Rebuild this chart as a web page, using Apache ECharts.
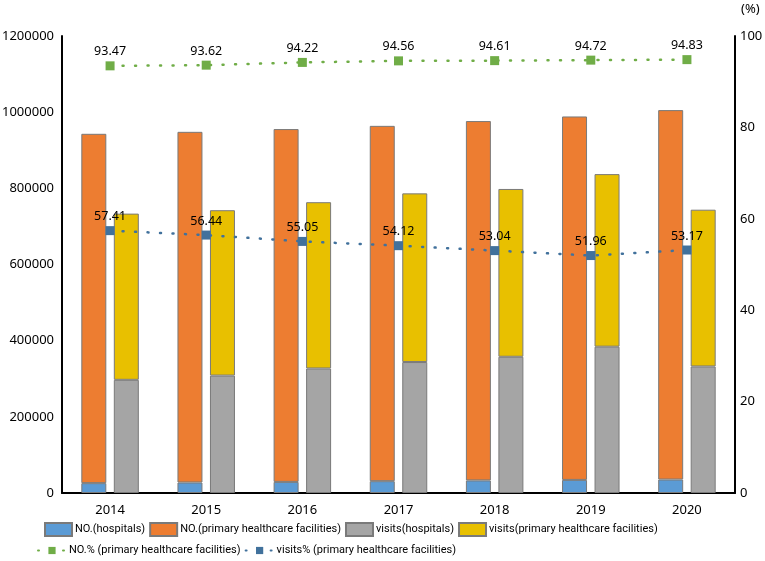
<!DOCTYPE html>
<html>
<head>
<meta charset="utf-8">
<script src="https://cdn.jsdelivr.net/npm/echarts@6/dist/echarts.min.js"></script>
<style>
  html, body { margin: 0; padding: 0; background: #fff; }
  #main { width: 765px; height: 561px; }
</style>
</head>
<body>
<div id="main"></div>
<script>
// data
var years = ['2014', '2015', '2016', '2017', '2018', '2019', '2020'];
var noHospitals = [25860, 27587, 29140, 31056, 33009, 34354, 35394];
var noPrimary = [917335, 920770, 926518, 933024, 943639, 954390, 970036];
var visitsHospitals = [297207, 308364, 326956, 343892, 357737, 384240, 332288];
var visitsPrimary = [436395, 434193, 436663, 442892, 440632, 453087, 411614];
var noPct = [93.47, 93.62, 94.22, 94.56, 94.61, 94.72, 94.83];
var visitsPct = [57.41, 56.44, 55.05, 54.12, 53.04, 51.96, 53.17];

var font = 'Noto Sans';
var legendFont = 'Roboto';
var axisColor = '#000';

function barSeries(name, stack, data, color) {
  return {
    name: name,
    type: 'bar',
    stack: stack,
    barWidth: 25,
    barGap: '30%',
    data: data,
    itemStyle: { color: color, borderColor: '#7a7a7a', borderWidth: 1 }
  };
}

function lineSeries(name, data, color) {
  return {
    name: name,
    type: 'line',
    yAxisIndex: 1,
    z: 5,
    data: data,
    symbol: 'rect',
    symbolSize: 9,
    itemStyle: { color: color },
    lineStyle: { color: color, width: 2.5, type: [1, 11.5], cap: 'round' },
    label: {
      show: true,
      position: 'top',
      distance: 3,
      color: '#000',
      fontFamily: font,
      fontSize: 12.5
    }
  };
}

var option = {
  animation: false,
  textStyle: { fontFamily: font },
  grid: { left: 62, right: 30, top: 36, bottom: 68, outerBoundsMode: 'none' },
  legend: [
    {
      data: ['NO.(hospitals)', 'NO.(primary healthcare facilities)', 'visits(hospitals)', 'visits(primary healthcare facilities)'],
      left: 44,
      top: 522,
      padding: 0,
      icon: 'rect',
      itemWidth: 27,
      itemHeight: 13,
      itemGap: 4,
      textStyle: { fontFamily: legendFont, fontSize: 11, color: '#000', padding: [0, 0, 0, -2] }
    },
    {
      data: ['NO.% (primary healthcare facilities)', 'visits% (primary healthcare facilities)'],
      left: 37,
      top: 545,
      padding: 0,
      itemWidth: 28,
      itemHeight: 9,
      itemGap: 4,
      textStyle: { fontFamily: legendFont, fontSize: 11, color: '#000', padding: [0, 0, 0, -2] }
    }
  ],
  xAxis: {
    type: 'category',
    data: years,
    axisLine: { lineStyle: { color: axisColor, width: 2 } },
    axisTick: { show: false },
    axisLabel: { color: '#000', fontSize: 13, margin: 11 }
  },
  yAxis: [
    {
      type: 'value',
      min: 0,
      max: 1200000,
      interval: 200000,
      axisLine: { show: true, lineStyle: { color: axisColor, width: 2 } },
      axisTick: { show: false },
      splitLine: { show: false },
      axisLabel: { color: '#000', fontSize: 13, margin: 8, formatter: function (v) { return String(v); } }
    },
    {
      type: 'value',
      min: 0,
      max: 100,
      interval: 20,
      name: '(%)',
      nameLocation: 'end',
      nameGap: 20,
      nameTextStyle: { color: '#000', fontSize: 13, align: 'left', padding: [0, 0, 0, 6] },
      axisLine: { show: true, lineStyle: { color: axisColor, width: 2 } },
      axisTick: { show: false },
      splitLine: { show: false },
      axisLabel: { color: '#000', fontSize: 13, margin: 5 }
    }
  ],
  series: [
    barSeries('NO.(hospitals)', 'no', noHospitals, '#5B9BD5'),
    barSeries('NO.(primary healthcare facilities)', 'no', noPrimary, '#ED7D31'),
    barSeries('visits(hospitals)', 'visits', visitsHospitals, '#A5A5A5'),
    barSeries('visits(primary healthcare facilities)', 'visits', visitsPrimary, '#E8C000'),
    lineSeries('NO.% (primary healthcare facilities)', noPct, '#70AD47'),
    lineSeries('visits% (primary healthcare facilities)', visitsPct, '#41719C')
  ]
};

var myChart = echarts.init(document.getElementById('main'));
myChart.setOption(option);
</script>
</body>
</html>
